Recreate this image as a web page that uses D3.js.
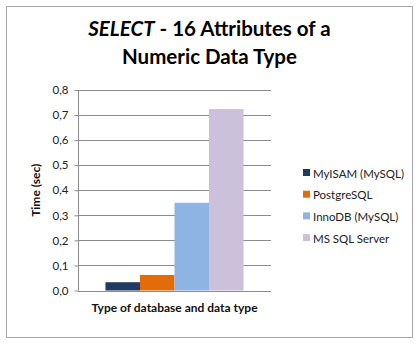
<!DOCTYPE html>
<html><head><meta charset="utf-8">
<script src="https://cdn.jsdelivr.net/npm/d3@7"></script>
<style>
body{margin:0;background:#fff;}
text{font-family:Lato,"Liberation Sans",sans-serif;}
</style></head>
<body><svg id="c" width="419" height="345"></svg>
<script>
const categories = ["Type of database and data type"];
const seriesNames = ["MyISAM (MySQL)", "PostgreSQL", "InnoDB (MySQL)", "MS SQL Server"];
const seriesValues = [0.033, 0.062, 0.35, 0.724];
const seriesColors = ["#1f3a63", "#e36c0a", "#8eb4e3", "#ccc1da"];
const yTicks = [0, 0.1, 0.2, 0.3, 0.4, 0.5, 0.6, 0.7, 0.8];
const tickLabels = ["0,0","0,1","0,2","0,3","0,4","0,5","0,6","0,7","0,8"];

const svg = d3.select("#c");
svg.append("rect").attr("x",6.5).attr("y",6.5).attr("width",406).attr("height",331)
  .attr("fill","#fff").attr("stroke","#a6a6a6").attr("stroke-width",1);

const L=78, R=271, T=90, B=290.5;
const y = d3.scaleLinear().domain([0,0.8]).range([B,T]);
const x0 = d3.scaleBand().domain(categories).range([L,R]).paddingOuter(0.199).paddingInner(0);
const x1 = d3.scaleBand().domain(seriesNames).range([0,x0.bandwidth()]);

// gridlines
svg.append("g").selectAll("line").data(yTicks.slice(1)).join("line")
  .attr("x1",L).attr("x2",R).attr("y1",d=>Math.round(y(d))+0.5).attr("y2",d=>Math.round(y(d))+0.5)
  .attr("stroke","#8c8c8c").attr("stroke-width",1);

const yAxis = d3.axisLeft(y).tickValues(yTicks).tickFormat((d,i)=>tickLabels[i]).tickSize(4).tickPadding(6);
const gy = svg.append("g").attr("transform",`translate(${L+0.5},0)`).call(yAxis);
gy.select(".domain").attr("stroke","#8c8c8c").attr("d",`M0,${T}V${B}`);
gy.selectAll(".tick line").attr("stroke","#8c8c8c");
gy.selectAll(".tick text").attr("font-size",11.5).attr("fill","#222").attr("font-family","Lato, sans-serif");

// bars
svg.append("g").selectAll("rect").data(seriesValues).join("rect")
  .attr("x",(d,i)=>x0(categories[0])+x1(seriesNames[i]))
  .attr("width",x1.bandwidth())
  .attr("y",d=>y(d)).attr("height",d=>B-y(d))
  .attr("fill",(d,i)=>seriesColors[i]);

// x axis line
svg.append("line").attr("x1",L).attr("x2",R).attr("y1",Math.round(B)+0.5).attr("y2",Math.round(B)+0.5)
  .attr("stroke","#8c8c8c");

// axis titles
svg.append("text").attr("x",(L+R)/2).attr("y",312).attr("text-anchor","middle")
  .attr("font-size",12).attr("font-weight","bold").attr("fill","#111").text(categories[0]);
svg.append("text").attr("transform",`translate(40,${(T+B)/2}) rotate(-90)`).attr("text-anchor","middle")
  .attr("font-size",12).attr("font-weight","bold").attr("fill","#111").text("Time (sec)");

// title
const t1 = svg.append("text").attr("x",209.5).attr("y",36).attr("text-anchor","middle")
  .attr("font-size",20.5).attr("font-weight","bold").attr("fill","#000");
t1.append("tspan").attr("font-style","italic").text("SELECT");
t1.append("tspan").text(" - 16 Attributes of a");
svg.append("text").attr("x",209.5).attr("y",64).attr("text-anchor","middle")
  .attr("font-size",20.5).attr("font-weight","bold").attr("fill","#000").text("Numeric Data Type");

// legend
const lg = svg.append("g").selectAll("g").data(seriesNames).join("g")
  .attr("transform",(d,i)=>`translate(303,${173+i*21.7})`);
lg.append("rect").attr("x",0).attr("y",-4).attr("width",7).attr("height",7).attr("fill",(d,i)=>seriesColors[i]);
lg.append("text").attr("x",10).attr("y",4.5).attr("font-size",11.5).attr("fill","#222").text(d=>d);
</script></body></html>
